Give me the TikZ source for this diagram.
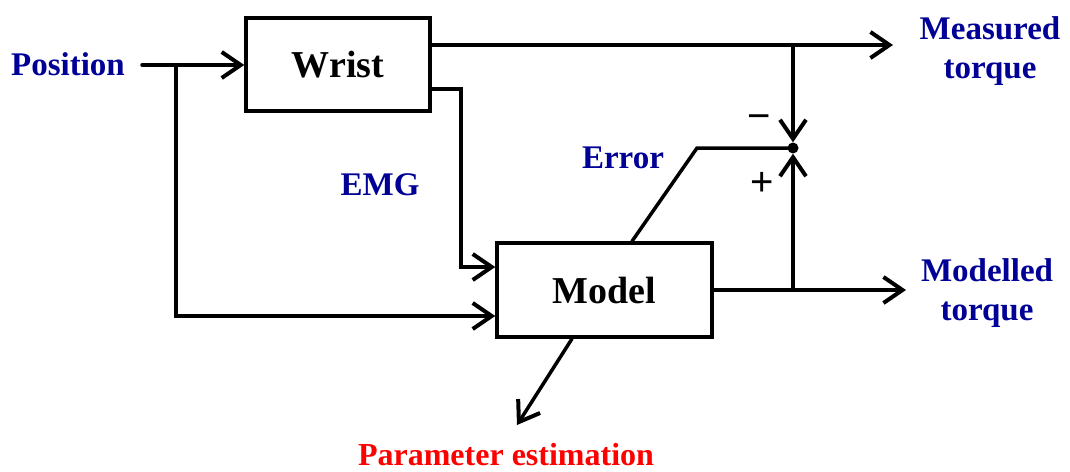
\documentclass[tikz,border=0pt]{standalone}
\usepackage{fontspec}
\setmainfont{Liberation Serif}
\newfontfamily\sansf{Liberation Sans}
\usetikzlibrary{arrows.meta,calc}
\definecolor{lblue}{RGB}{0,0,150}
\definecolor{lred}{RGB}{255,0,0}
\tikzset{
  blk/.style={draw, line width=3.5pt, minimum width=184pt, minimum height=93pt, inner sep=0pt, font=\fontsize{38}{40}\selectfont\bfseries},
  lbl/.style={text=lblue, align=center, inner sep=0pt, font=\fontsize{33}{39}\selectfont\bfseries},
  plbl/.style={text=lred, inner sep=0pt, font=\fontsize{32}{36}\selectfont\bfseries},
  wire/.style={line width=3.5pt, line cap=round, line join=miter},
  arr/.style={wire, -{Straight Barb[length=19pt,width=26pt,line width=4pt]}},
  sgn/.style={inner sep=0pt, font=\fontsize{40}{40}\selectfont\sansf}
}
\begin{document}
\begin{tikzpicture}[x=1pt,y=-1pt]
\useasboundingbox (0,0) rectangle (1070,471);
% blocks
\node[blk] (W) at (338,64.5) {Wrist};
\node[blk, minimum width=215pt, minimum height=94pt] (M) at (604.5,290) {Model};
\node[circle, fill, inner sep=0pt, minimum size=11pt] (S) at (793,148) {};
% labels
\node[lbl] (pos) at (68,64) {Position};
\node[lbl] (mt) at (990,51) {Measured\\torque};
\node[lbl] (mdt) at (987,293) {Modelled\\torque};
\node[lbl] (emg) at (380,185) {EMG};
\node[lbl] (err) at (623,158) {Error};
\node[plbl] (par) at (506,455) {Parameter estimation};
\node[sgn] (minus) at (759,122) {\char"2212};
\node[sgn] (plus) at (762,184) {+};
% coordinates
\coordinate (p0) at (142,65);
\coordinate (j1) at (176,65);
\coordinate (mtip) at (893,45);
\coordinate (b1) at (793,45);
\coordinate (b2) at (793,290);
\coordinate (mo) at (906,290);
\coordinate (e1) at (697,148);
\coordinate (emg1) at (461,89);
\coordinate (emg2) at (461,267);
\coordinate (pe) at (517,425);
% connectors
\draw[arr] (p0) -- (W.west |- p0);
\draw[arr] (j1) |- ([yshift=-26pt]M.west);
\draw[arr] (W.east |- mtip) -- (mtip);
\draw[arr] (b1) -- (S.north);
\draw[arr] (b2) -- (S.south);
\draw[wire] (S.center) -- (e1) -- ([xshift=27.5pt]M.north);
\draw[arr] (M.east) -- (mo);
\draw[arr] (W.east |- emg1) -- (emg1) -- (emg2) -- (M.west |- emg2);
\draw[arr] ([xshift=-32.5pt]M.south) -- (pe);
\end{tikzpicture}
\end{document}
